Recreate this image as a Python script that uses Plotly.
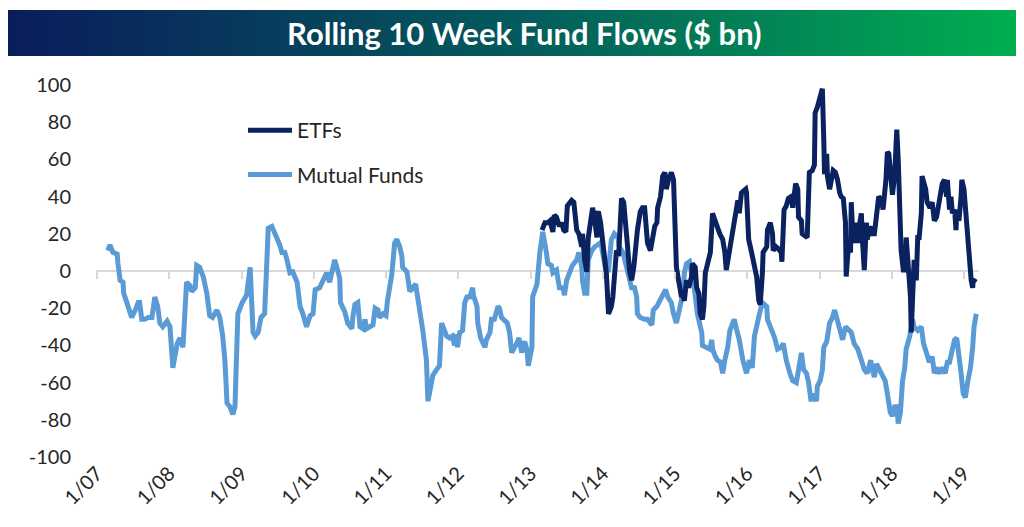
import pandas as pd
import plotly.graph_objects as go

# ---------------- data ----------------
mf_years = [2007.15, 2007.18, 2007.22, 2007.28, 2007.29, 2007.32, 2007.36, 2007.37, 2007.43, 2007.48,
            2007.53, 2007.57, 2007.59, 2007.62, 2007.66, 2007.71, 2007.76, 2007.80, 2007.84, 2007.87,
            2007.91, 2007.97, 2008.01, 2008.04, 2008.05, 2008.11, 2008.15, 2008.19, 2008.22, 2008.24,
            2008.29, 2008.31, 2008.36, 2008.38, 2008.42, 2008.47, 2008.52, 2008.56, 2008.60, 2008.66,
            2008.70, 2008.74, 2008.77, 2008.80, 2008.84, 2008.88, 2008.91, 2008.94, 2008.95, 2009.01,
            2009.07, 2009.12, 2009.14, 2009.16, 2009.19, 2009.23, 2009.27, 2009.32, 2009.35, 2009.37,
            2009.42, 2009.49, 2009.53, 2009.56, 2009.60, 2009.63, 2009.67, 2009.71, 2009.77, 2009.81,
            2009.85, 2009.90, 2009.95, 2009.99, 2010.02, 2010.08, 2010.13, 2010.18, 2010.22, 2010.26,
            2010.29, 2010.33, 2010.36, 2010.37, 2010.43, 2010.47, 2010.53, 2010.54, 2010.57, 2010.61,
            2010.64, 2010.68, 2010.71, 2010.73, 2010.78, 2010.82, 2010.85, 2010.89, 2010.91, 2010.96,
            2011.00, 2011.02, 2011.08, 2011.12, 2011.15, 2011.19, 2011.22, 2011.23, 2011.29, 2011.33,
            2011.37, 2011.41, 2011.43, 2011.47, 2011.51, 2011.56, 2011.58, 2011.61, 2011.65, 2011.70,
            2011.74, 2011.77, 2011.81, 2011.84, 2011.88, 2011.92, 2011.95, 2011.98, 2011.99, 2012.02,
            2012.06, 2012.09, 2012.12, 2012.16, 2012.20, 2012.21, 2012.26, 2012.27, 2012.31, 2012.37,
            2012.39, 2012.44, 2012.46, 2012.50, 2012.55, 2012.57, 2012.60, 2012.64, 2012.68, 2012.71,
            2012.74, 2012.75, 2012.81, 2012.84, 2012.88, 2012.89, 2012.92, 2012.95, 2012.97, 2013.02,
            2013.03, 2013.09, 2013.13, 2013.17, 2013.22, 2013.24, 2013.29, 2013.31, 2013.36, 2013.40,
            2013.45, 2013.47, 2013.50, 2013.54, 2013.58, 2013.64, 2013.67, 2013.71, 2013.72, 2013.75,
            2013.78, 2013.80, 2013.85, 2013.89, 2013.93, 2013.96, 2013.98, 2014.01, 2014.04, 2014.08,
            2014.12, 2014.16, 2014.21, 2014.23, 2014.28, 2014.33, 2014.37, 2014.40, 2014.44, 2014.47,
            2014.48, 2014.52, 2014.58, 2014.62, 2014.68, 2014.70, 2014.75, 2014.79, 2014.83, 2014.87,
            2014.90, 2014.95, 2014.98, 2015.02, 2015.06, 2015.11, 2015.13, 2015.16, 2015.20, 2015.23,
            2015.27, 2015.31, 2015.37, 2015.38, 2015.44, 2015.48, 2015.51, 2015.52, 2015.56, 2015.59,
            2015.63, 2015.66, 2015.69, 2015.73, 2015.76, 2015.80, 2015.82, 2015.85, 2015.89, 2015.94,
            2015.99, 2016.03, 2016.07, 2016.10, 2016.14, 2016.17, 2016.21, 2016.27, 2016.28, 2016.34,
            2016.38, 2016.42, 2016.47, 2016.50, 2016.54, 2016.59, 2016.63, 2016.68, 2016.71, 2016.75,
            2016.78, 2016.82, 2016.85, 2016.88, 2016.90, 2016.93, 2016.96, 2016.97, 2017.01, 2017.04,
            2017.06, 2017.10, 2017.14, 2017.18, 2017.21, 2017.24, 2017.28, 2017.32, 2017.36, 2017.40,
            2017.44, 2017.48, 2017.53, 2017.58, 2017.62, 2017.66, 2017.71, 2017.73, 2017.76, 2017.79,
            2017.83, 2017.87, 2017.91, 2017.94, 2017.98, 2018.01, 2018.04, 2018.07, 2018.09, 2018.12,
            2018.15, 2018.18, 2018.20, 2018.25, 2018.29, 2018.31, 2018.36, 2018.41, 2018.44, 2018.48,
            2018.52, 2018.56, 2018.59, 2018.62, 2018.66, 2018.70, 2018.74, 2018.77, 2018.80, 2018.84,
            2018.87, 2018.90, 2018.92, 2018.96, 2018.99, 2019.02, 2019.05, 2019.09, 2019.12, 2019.14,
            2019.17]
mf_vals = [11, 14, 10, 9, 4, -5, -6, -12, -19, -25,
           -21, -17, -17, -26, -26, -25, -25, -14, -19, -28,
           -30, -27, -30, -42, -52, -39, -36, -41, -25, -6,
           -8, -11, -9, 3, 2, -3, -12, -24, -25, -21,
           -25, -35, -48, -71, -73, -77, -73, -44, -23, -17,
           -13, 2, -12, -33, -35, -33, -25, -23, 4, 23,
           24, 18, 14, 10, 10, 6, -1, -0.5, -6, -19,
           -23, -30, -24, -23, -10, -9, -5, -1, -6, 0.5,
           6, 0.5, -4, -17, -22, -28, -31, -25, -18, -17,
           -30, -31, -26, -31, -30, -29, -20, -21, -25, -23,
           -24, -16, -2, 15, 17, 13, 8, 2, -0.5, -11,
           -9, -7, -12, -21, -32, -48, -70, -64, -56, -53,
           -51, -28, -32, -35, -36, -35, -40, -34, -41, -33,
           -32, -17, -14, -14, -9, -13, -19, -28, -36, -41,
           -37, -33, -26, -26, -19, -20, -25, -27, -28, -33,
           -44, -43, -39, -36, -44, -40, -38, -42, -51, -41,
           -14, -7, 10, 21, 10, 4, 3, -1, 0.5, -9,
           -9, -13, -5, -1, 3, 6, 10, 2, -5, -12,
           -12, 6, 11, 13, 14, 15, 14, 6, 0.5, 0.5,
           17, 20, 18, 13, 10, 2, -3, -9, -9, -14,
           -23, -25, -26, -26, -29, -21, -19, -16, -12, -10,
           -14, -17, -23, -28, -21, -12, -1, 4, 5, -1,
           -10, -23, -33, -40, -41, -42, -37, -42, -46, -48,
           -49, -55, -48, -41, -32, -27, -26, -31, -37, -48,
           -55, -48, -52, -35, -26, -23, -17, -19, -26, -32,
           -36, -42, -41, -39, -48, -55, -59, -60, -53, -44,
           -53, -55, -60, -69, -69, -66, -70, -62, -59, -53,
           -41, -38, -28, -25, -21, -25, -30, -37, -30, -32,
           -33, -39, -42, -48, -53, -55, -48, -53, -57, -50,
           -53, -55, -59, -66, -76, -78, -73, -73, -82, -76,
           -59, -52, -42, -35, -26, -30, -32, -30, -39, -44,
           -49, -46, -55, -52, -55, -52, -55, -49, -49, -42,
           -37, -36, -41, -55, -66, -68, -60, -52, -41, -30,
           -23]

etf_years = [2013.16, 2013.20, 2013.24, 2013.27, 2013.31, 2013.33, 2013.36, 2013.40, 2013.43, 2013.46,
             2013.49, 2013.51, 2013.57, 2013.60, 2013.64, 2013.67, 2013.71, 2013.72, 2013.75, 2013.78,
             2013.80, 2013.85, 2013.86, 2013.89, 2013.92, 2013.93, 2013.94, 2013.97, 2014.00, 2014.03,
             2014.05, 2014.08, 2014.12, 2014.14, 2014.18, 2014.19, 2014.22, 2014.26, 2014.29, 2014.32,
             2014.34, 2014.37, 2014.40, 2014.43, 2014.45, 2014.48, 2014.52, 2014.55, 2014.58, 2014.61,
             2014.62, 2014.66, 2014.69, 2014.72, 2014.75, 2014.76, 2014.80, 2014.83, 2014.86, 2014.88,
             2014.91, 2014.95, 2014.98, 2015.01, 2015.02, 2015.05, 2015.09, 2015.10, 2015.13, 2015.16,
             2015.19, 2015.23, 2015.24, 2015.28, 2015.30, 2015.33, 2015.35, 2015.38, 2015.40, 2015.42,
             2015.45, 2015.49, 2015.52, 2015.55, 2015.58, 2015.62, 2015.66, 2015.69, 2015.71, 2015.74,
             2015.78, 2015.81, 2015.84, 2015.87, 2015.89, 2015.92, 2015.95, 2015.98, 2015.99, 2016.02,
             2016.06, 2016.08, 2016.13, 2016.16, 2016.18, 2016.21, 2016.22, 2016.27, 2016.28, 2016.32,
             2016.35, 2016.36, 2016.40, 2016.43, 2016.47, 2016.48, 2016.51, 2016.54, 2016.57, 2016.61,
             2016.63, 2016.67, 2016.70, 2016.71, 2016.75, 2016.76, 2016.81, 2016.83, 2016.86, 2016.90,
             2016.93, 2016.94, 2016.97, 2017.01, 2017.04, 2017.06, 2017.07, 2017.10, 2017.11, 2017.14,
             2017.17, 2017.19, 2017.22, 2017.25, 2017.28, 2017.30, 2017.33, 2017.36, 2017.37, 2017.40,
             2017.43, 2017.44, 2017.46, 2017.48, 2017.51, 2017.53, 2017.55, 2017.58, 2017.59, 2017.62,
             2017.65, 2017.66, 2017.70, 2017.73, 2017.76, 2017.79, 2017.82, 2017.86, 2017.88, 2017.92,
             2017.94, 2017.96, 2017.99, 2018.01, 2018.04, 2018.07, 2018.09, 2018.12, 2018.13, 2018.16,
             2018.19, 2018.20, 2018.23, 2018.26, 2018.27, 2018.29, 2018.31, 2018.34, 2018.36, 2018.38,
             2018.41, 2018.42, 2018.47, 2018.49, 2018.53, 2018.56, 2018.59, 2018.62, 2018.66, 2018.70,
             2018.73, 2018.76, 2018.77, 2018.80, 2018.82, 2018.84, 2018.87, 2018.89, 2018.90, 2018.93,
             2018.96, 2018.97, 2019.00, 2019.03, 2019.05, 2019.07, 2019.10, 2019.12, 2019.13, 2019.17]
etf_vals = [22, 26, 26, 27, 21, 30, 29, 24, 26, 22,
            21, 35, 38, 37, 22, 20, 13, 20, 6, -0.5,
            18, 33, 34, 27, 18, 31, 32, 26, 17, 6,
            -1, -23, -19, -14, 2, 11, 8, 39, 37, 27,
            15, 0.5, -5, 2, 13, 22, 32, 34, 34, 24,
            15, 11, 18, 24, 26, 34, 40, 51, 53, 44,
            49, 53, 49, 24, 2, -5, -14, -12, -16, -5,
            -9, -3, 4, 2, -9, -12, -23, -26, -19, -1,
            4, 10, 31, 27, 24, 20, 17, 10, 0.5, 8,
            17, 24, 34, 38, 31, 42, 43, 44, 42, 17,
            10, 6, -3, -16, -18, -1, 10, 13, 22, 26,
            20, 11, 13, 12, 10, 5, 33, 35, 39, 40,
            34, 47, 44, 29, 27, 20, 18, 18, 53, 54,
            57, 85, 88, 94, 98, 70, 52, 63, 51, 44,
            51, 54, 53, 49, 42, 40, 39, 26, -3, 13,
            10, 37, 20, 15, 26, 15, 24, 31, 20, 0.5,
            26, 17, 24, 20, 20, 31, 40, 38, 33, 49,
            64, 63, 51, 41, 51, 76, 60, 33, 11, 0.5,
            0.5, 18, 2, -14, -33, -5, 6, -5, 18, 18,
            31, 51, 44, 37, 34, 37, 27, 29, 38, 47,
            49, 40, 49, 33, 40, 31, 33, 22, 33, 27,
            40, 49, 44, 27, 18, 6, -5, -9, -5, -6]

tick_years = list(range(2007, 2020))
tick_labels = [f"1/{y % 100:02d}" for y in tick_years]
y_ticks = list(range(-100, 101, 20))
y_tick_labels = [str(v) for v in y_ticks]

series_names = ["ETFs", "Mutual Funds"]
series_colors = ["#0b2260", "#5b9bd5"]
title_text = "Rolling 10 Week Fund Flows ($ bn)"


def to_dates(years):
    base = pd.Timestamp("2007-01-01")
    return [base + pd.to_timedelta((y - 2007) * 365.25, unit="D") for y in years]


# page has an 8px body margin; figure fills the rest of the 1024x527 window
W, H, OFF = 1016, 519, 8


def fx(px):
    return (px - OFF) / W


def fy(py):
    return (H - (py - OFF)) / H


FONT = "Lato, 'Open Sans', sans-serif"
TXT = "#262626"

fig = go.Figure()

# title banner gradient
fig.add_trace(go.Heatmap(
    z=[[0, 1]], x=[0, 1], y=[0], zsmooth="best",
    colorscale=[[0, "#0a1d5c"], [0.5, "#045a5c"], [1, "#00b050"]],
    showscale=False, hoverinfo="skip", xaxis="x3", yaxis="y3"))

fig.add_trace(go.Scatter(
    x=to_dates(mf_years), y=mf_vals, mode="lines", name=series_names[1],
    line=dict(color=series_colors[1], width=5), legendrank=2, legendgroup="mf",
    xaxis="x", yaxis="y"))
fig.add_trace(go.Scatter(
    x=to_dates(etf_years), y=etf_vals, mode="lines", name=series_names[0],
    line=dict(color=series_colors[0], width=5), legendrank=1, legendgroup="etf",
    xaxis="x2", yaxis="y"))

tickvals = [pd.Timestamp(f"{y}-01-01") for y in tick_years]
xrange = ["2006-12-27", "2019-03-18"]

fig.update_layout(
    width=W, height=H,
    margin=dict(l=0, r=0, t=0, b=0),
    paper_bgcolor="white", plot_bgcolor="white",
    font=dict(family=FONT, color=TXT),
    xaxis=dict(
        domain=[fx(96), fx(979)], anchor="y", type="date", range=xrange,
        tickvals=tickvals, ticktext=tick_labels, tickangle=-45,
        tickfont=dict(size=20, color=TXT, family=FONT),
        ticks="", ticklen=0,
        showgrid=False, zeroline=False, showline=False, automargin=False,
    ),
    xaxis2=dict(
        domain=[fx(96), fx(979)], overlaying="x", matches="x", anchor="free",
        position=fy(271), type="date", range=xrange,
        tickvals=tickvals, showticklabels=False,
        ticks="outside", ticklen=7, tickwidth=2, tickcolor="#d9d9d9",
        showgrid=False, zeroline=False, showline=False,
    ),
    yaxis=dict(
        domain=[fy(457), fy(85)], range=[-100, 100],
        tickvals=y_ticks, ticktext=y_tick_labels,
        tickfont=dict(size=20, color=TXT, family=FONT),
        ticks="outside", ticklen=20, tickcolor="rgba(0,0,0,0)",
        showgrid=False, zeroline=True, zerolinecolor="#d9d9d9", zerolinewidth=2,
        showline=False, automargin=False,
    ),
    xaxis3=dict(domain=[0, 1], range=[0, 1], visible=False, anchor="y3",
                fixedrange=True),
    yaxis3=dict(domain=[fy(56), fy(10)], range=[-0.5, 0.5],
                visible=False, anchor="x3", fixedrange=True),
    legend=dict(
        x=fx(243), y=fy(110), xanchor="left", yanchor="top",
        bgcolor="rgba(0,0,0,0)", borderwidth=0, tracegroupgap=14,
        font=dict(size=21, color=TXT, family=FONT), itemwidth=44,
    ),
    showlegend=True,
    annotations=[dict(
        text=f"<b>{title_text}</b>", x=fx(524), y=fy(33),
        xref="paper", yref="paper", xanchor="center", yanchor="middle", showarrow=False,
        font=dict(size=31, color="white", family=FONT),
    )],
)

fig.write_html("out.html")
